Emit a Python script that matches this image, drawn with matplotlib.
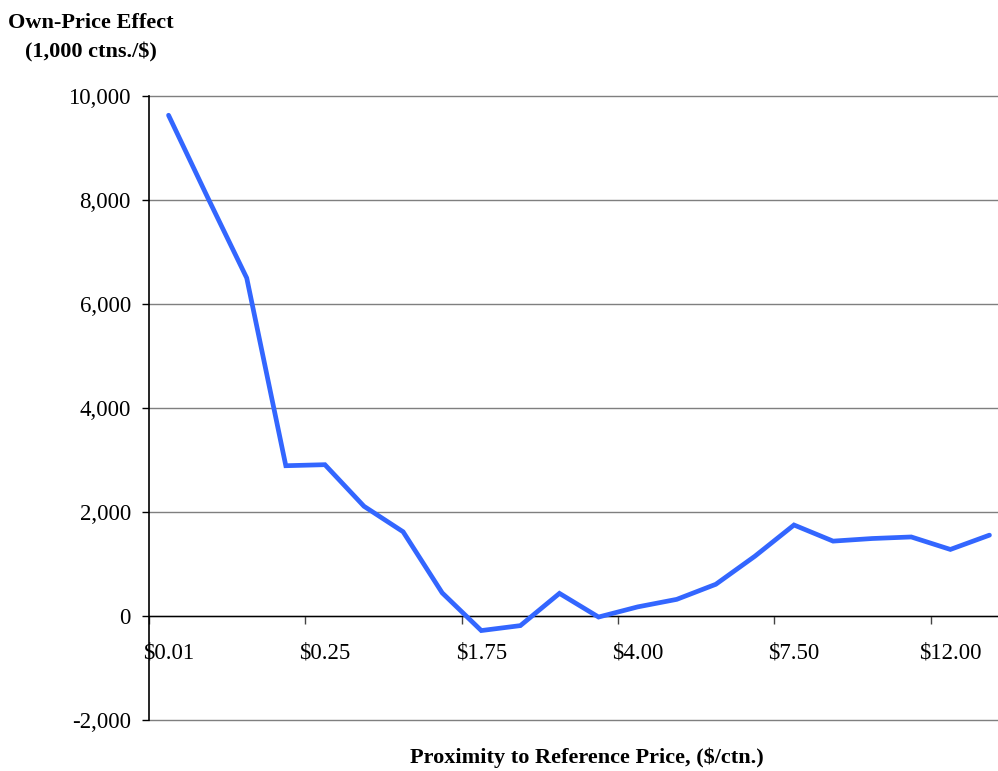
import matplotlib.pyplot as plt
from matplotlib.ticker import FixedLocator, FuncFormatter

# own-price effect by proximity bucket (22 buckets, only every 4th labelled)
effect = [9630, 8050, 6500, 2890, 2910, 2110, 1620, 445, -280, -185, 435, -20,
          175, 320, 610, 1150, 1750, 1440, 1490, 1520, 1280, 1555]
labels = ["$0.01", "$0.25", "$1.75", "$4.00", "$7.50", "$12.00"]
label_step = 4
yticks = [-2000, 0, 2000, 4000, 6000, 8000, 10000]

plt.rcParams['font.family'] = ['Liberation Serif', 'DejaVu Serif']

fig = plt.figure(figsize=(9.98, 7.71), dpi=100)
ax = fig.add_axes([149 / 998, 51 / 771, 860 / 998, 624 / 771])

x = list(range(len(effect)))
ax.plot(x, effect, color='#3366FF', lw=3.4, solid_capstyle='round',
        solid_joinstyle='miter', zorder=3)

ax.set_xlim(-0.5, len(effect) - 0.5)
ax.set_ylim(-2000, 10000)

for s in ['top', 'right']:
    ax.spines[s].set_visible(False)
ax.spines['bottom'].set_position(('data', 0))
ax.spines['bottom'].set_color('black')
ax.spines['left'].set_color('black')
ax.spines['bottom'].set_linewidth(1.0)
ax.spines['left'].set_linewidth(1.2)

ax.set_yticks(yticks)
ax.yaxis.set_major_formatter(FuncFormatter(lambda v, p: f"{v:,.0f}"))
ax.yaxis.grid(True, color='#7f7f7f', lw=1.0)
for gl in ax.yaxis.get_gridlines():
    gl.set_clip_on(False)
ax.set_axisbelow(True)
ax.tick_params(axis='y', direction='out', length=5, width=1, pad=8,
               labelsize=16.5, color='black')

# major ticks at bucket boundaries, labels on bucket centres
ax.xaxis.set_major_locator(FixedLocator([i - 0.5 for i in range(0, len(effect), label_step)]))
ax.xaxis.set_major_formatter(FuncFormatter(lambda v, p: ""))
ax.xaxis.set_minor_locator(FixedLocator([i * label_step for i in range(len(labels))]))
ax.set_xticklabels(labels, minor=True)
ax.tick_params(axis='x', which='major', direction='out', length=6, width=1, color='#444444')
ax.tick_params(axis='x', which='minor', length=0, pad=19, labelsize=16.5)

fig.text(91 / 998, 1 - 13 / 771, "Own-Price Effect\n(1,000 ctns./$)", ha='center', va='top',
         fontsize=16, fontweight='bold', linespacing=1.6)
fig.text(587 / 998, 1 - 758 / 771, "Proximity to Reference Price, ($/ctn.)", ha='center',
         va='center', fontsize=16, fontweight='bold')

fig.savefig('out.png', dpi=100)
